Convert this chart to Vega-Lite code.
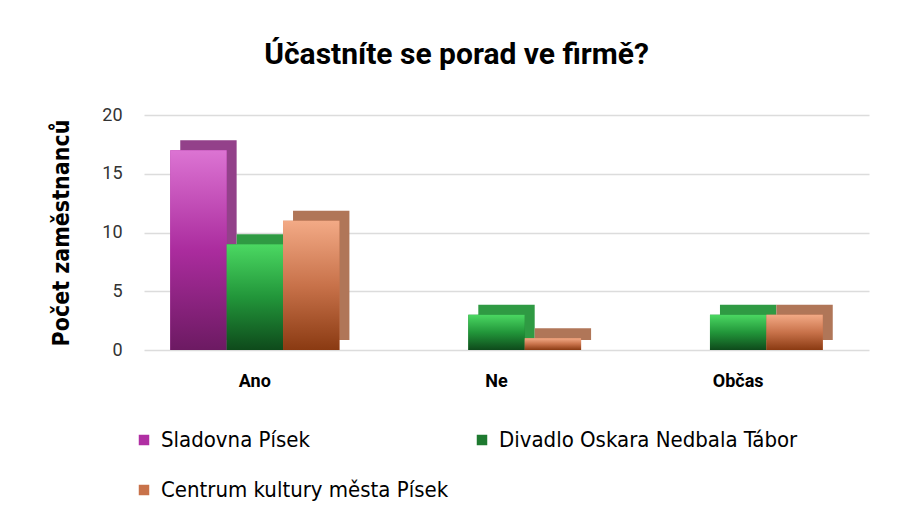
{
  "$schema": "https://vega.github.io/schema/vega-lite/v6.json",
  "width": 725,
  "height": 235,
  "autosize": {"type": "none"},
  "padding": {"left": 134, "top": 115, "right": 40, "bottom": 166},
  "background": "white",
  "title": {
    "text": "Účastníte se porad ve firmě?",
    "font": "Roboto, sans-serif",
    "fontSize": 30,
    "fontWeight": "bold",
    "color": "#000000",
    "anchor": "middle",
    "dx": -40,
    "offset": 36
  },
  "data": {
    "values": [
      {"kategorie": "Ano", "instituce": "Sladovna Písek", "pocet": 17},
      {"kategorie": "Ano", "instituce": "Divadlo Oskara Nedbala Tábor", "pocet": 9},
      {"kategorie": "Ano", "instituce": "Centrum kultury města Písek", "pocet": 11},
      {"kategorie": "Ne", "instituce": "Sladovna Písek", "pocet": 0},
      {"kategorie": "Ne", "instituce": "Divadlo Oskara Nedbala Tábor", "pocet": 3},
      {"kategorie": "Ne", "instituce": "Centrum kultury města Písek", "pocet": 1},
      {"kategorie": "Občas", "instituce": "Sladovna Písek", "pocet": 0},
      {"kategorie": "Občas", "instituce": "Divadlo Oskara Nedbala Tábor", "pocet": 3},
      {"kategorie": "Občas", "instituce": "Centrum kultury města Písek", "pocet": 3}
    ]
  },
  "encoding": {
    "y": {
      "field": "pocet",
      "type": "quantitative",
      "scale": {"domain": [0, 20]},
      "axis": {
        "title": "Počet zaměstnanců",
        "titleFont": "DejaVu Sans Condensed, Roboto, sans-serif",
        "titleFontSize": 23,
        "titleFontWeight": "bold",
        "titleColor": "#000000",
        "titlePadding": 28,
        "values": [0, 5, 10, 15, 20],
        "labelFont": "Roboto, sans-serif",
        "labelFontSize": 18,
        "labelColor": "#333333",
        "labelPadding": 12,
        "ticks": false,
        "domain": false,
        "gridColor": "#dcdcdc",
        "gridWidth": 1.5
      }
    }
  },
  "layer": [
    {
      "encoding": {
        "x": {
          "field": "kategorie",
          "type": "nominal",
          "sort": ["Ano", "Ne", "Občas"],
          "scale": {"paddingInner": 0.3, "paddingOuter": 0.15, "range": [10, 735]},
          "axis": null
        },
        "xOffset": {
          "field": "instituce",
          "type": "nominal",
          "sort": ["Sladovna Písek", "Divadlo Oskara Nedbala Tábor", "Centrum kultury města Písek"],
          "scale": {"paddingInner": 0, "paddingOuter": 0}
        }
      },
      "layer": [
        {
          "transform": [{"filter": "datum.instituce === 'Sladovna Písek'"}],
          "mark": {"type": "bar", "yOffset": -10, "color": "#93418a"},
          "encoding": {}
        },
        {
          "transform": [{"filter": "datum.instituce === 'Divadlo Oskara Nedbala Tábor'"}],
          "mark": {"type": "bar", "yOffset": -10, "color": "#2f9a43"},
          "encoding": {}
        },
        {
          "transform": [{"filter": "datum.instituce === 'Centrum kultury města Písek'"}],
          "mark": {"type": "bar", "yOffset": -10, "color": "#b07658"},
          "encoding": {}
        }
      ]
    },
    {
      "encoding": {
        "x": {
          "field": "kategorie",
          "type": "nominal",
          "sort": ["Ano", "Ne", "Občas"],
          "scale": {"paddingInner": 0.3, "paddingOuter": 0.15},
          "axis": {
            "title": null,
            "labelAngle": 0,
            "labelFont": "Roboto, sans-serif",
            "labelFontSize": 18,
            "labelFontWeight": "bold",
            "labelColor": "#000000",
            "labelPadding": 22,
            "ticks": false,
            "domain": false
          }
        },
        "xOffset": {
          "field": "instituce",
          "type": "nominal",
          "sort": ["Sladovna Písek", "Divadlo Oskara Nedbala Tábor", "Centrum kultury města Písek"],
          "scale": {"paddingInner": 0, "paddingOuter": 0}
        }
      },
      "layer": [
        {
          "mark": {"type": "bar"},
          "encoding": {
            "color": {
              "field": "instituce",
              "type": "nominal",
              "sort": ["Sladovna Písek", "Divadlo Oskara Nedbala Tábor", "Centrum kultury města Písek"],
              "scale": {"range": ["#b02fa3", "#1e7a30", "#c8724a"]},
              "legend": {
                "title": null,
                "orient": "none",
                "legendX": -1,
                "legendY": 314,
                "direction": "horizontal",
                "columns": 2,
                "symbolType": "square",
                "symbolSize": 110,
                "symbolStrokeWidth": 0,
                "labelFont": "DejaVu Sans Condensed, Roboto, sans-serif",
                "labelFontSize": 22,
                "labelColor": "#000000",
                "labelLimit": 500,
                "labelOffset": 6,
                "rowPadding": 28,
                "columnPadding": 22
              }
            }
          }
        },
        {
          "transform": [{"filter": "datum.instituce === 'Sladovna Písek'"}],
          "mark": {
            "type": "bar",
            "color": {"gradient": "linear", "x1": 0, "y1": 0, "x2": 0, "y2": 1,
              "stops": [{"offset": 0, "color": "#dc74d3"}, {"offset": 0.5, "color": "#ab2c9e"}, {"offset": 1, "color": "#6c1a62"}]}
          },
          "encoding": {}
        },
        {
          "transform": [{"filter": "datum.instituce === 'Divadlo Oskara Nedbala Tábor'"}],
          "mark": {
            "type": "bar",
            "color": {"gradient": "linear", "x1": 0, "y1": 0, "x2": 0, "y2": 1,
              "stops": [{"offset": 0, "color": "#4bd862"}, {"offset": 0.5, "color": "#22963a"}, {"offset": 1, "color": "#0e4a1b"}]}
          },
          "encoding": {}
        },
        {
          "transform": [{"filter": "datum.instituce === 'Centrum kultury města Písek'"}],
          "mark": {
            "type": "bar",
            "color": {"gradient": "linear", "x1": 0, "y1": 0, "x2": 0, "y2": 1,
              "stops": [{"offset": 0, "color": "#f3aa86"}, {"offset": 0.5, "color": "#c8724a"}, {"offset": 1, "color": "#8a3a12"}]}
          },
          "encoding": {}
        }
      ]
    }
  ],
  "resolve": {"scale": {"x": "independent", "xOffset": "independent"}},
  "config": {
    "view": {"stroke": null}
  }
}
